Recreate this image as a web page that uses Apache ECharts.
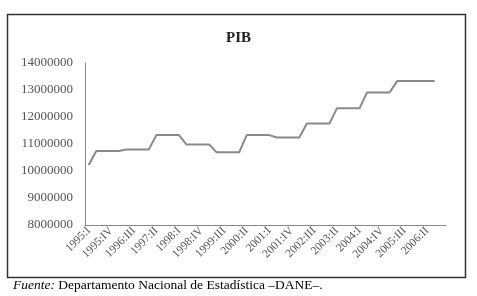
<!DOCTYPE html>
<html>
<head>
<meta charset="utf-8">
<script src="https://cdn.jsdelivr.net/npm/echarts@6/dist/echarts.min.js"></script>
<style>
  html, body { margin: 0; padding: 0; background: #fff; }
  #chart { width: 477px; height: 296px; }
</style>
</head>
<body>
<div id="chart"></div>
<script>
// 季度标签
const quarters = [
  '1995:I', '1995:II', '1995:III', '1995:IV',
  '1996:I', '1996:II', '1996:III', '1996:IV',
  '1997:I', '1997:II', '1997:III', '1997:IV',
  '1998:I', '1998:II', '1998:III', '1998:IV',
  '1999:I', '1999:II', '1999:III', '1999:IV',
  '2000:I', '2000:II', '2000:III', '2000:IV',
  '2001:I', '2001:II', '2001:III', '2001:IV',
  '2002:I', '2002:II', '2002:III', '2002:IV',
  '2003:I', '2003:II', '2003:III', '2003:IV',
  '2004:I', '2004:II', '2004:III', '2004:IV',
  '2005:I', '2005:II', '2005:III', '2005:IV',
  '2006:I', '2006:II', '2006:III', '2006:IV'
];

// PIB values
const pib = [
  10220000,
  10740000, 10740000, 10740000, 10740000,
  10800000, 10800000, 10800000, 10800000,
  11330000, 11330000, 11330000, 11330000,
  10980000, 10980000, 10980000, 10980000,
  10690000, 10690000, 10690000, 10690000,
  11330000, 11330000, 11330000, 11330000,
  11240000, 11240000, 11240000, 11240000,
  11760000, 11760000, 11760000, 11760000,
  12320000, 12320000, 12320000, 12320000,
  12910000, 12910000, 12910000, 12910000,
  13330000, 13330000, 13330000, 13330000, 13330000, 13330000,
  null
];

const serif = "'Liberation Serif', 'DejaVu Serif', serif";

let chart = echarts.init(document.getElementById('chart'));

chart.setOption({
  animation: false,
  title: {
    text: 'PIB',
    left: 'center',
    top: 26,
    textStyle: {
      fontFamily: serif,
      fontSize: 15,
      fontWeight: 'bold',
      color: '#222'
    }
  },
  grid: {
    left: 85,
    right: 31,
    top: 63,
    bottom: 71
  },
  xAxis: {
    type: 'category',
    data: quarters,
    boundaryGap: true,
    axisLine: { lineStyle: { color: '#888', width: 1 } },
    axisTick: { show: false },
    axisLabel: {
      interval: 2,
      rotate: 45,
      margin: 4,
      fontFamily: serif,
      fontSize: 11.5,
      color: '#555'
    }
  },
  yAxis: {
    type: 'value',
    min: 8000000,
    max: 14000000,
    interval: 1000000,
    splitLine: { show: false },
    axisLine: { show: true, lineStyle: { color: '#888', width: 1 } },
    axisTick: { show: false },
    axisLabel: {
      margin: 12,
      fontFamily: serif,
      fontSize: 13,
      color: '#555',
      formatter: (v) => String(v)
    }
  },
  series: [
    {
      type: 'line',
      data: pib,
      symbol: 'none',
      lineStyle: { color: '#8a8a8a', width: 2 }
    }
  ],
  graphic: [
    {
      type: 'rect',
      shape: { x: 7.5, y: 14.5, width: 458, height: 263 },
      style: { fill: 'none', stroke: '#333', lineWidth: 1.5 }
    },
    {
      type: 'text',
      left: 13,
      top: 278,
      style: {
        text: '{i|Fuente:} Departamento Nacional de Estadística –DANE–.',
        fontFamily: serif,
        fontSize: 13.5,
        fill: '#000',
        rich: {
          i: { fontStyle: 'italic', fontFamily: serif, fontSize: 13.5, fill: '#000' }
        }
      }
    }
  ]
});
</script>
</body>
</html>
